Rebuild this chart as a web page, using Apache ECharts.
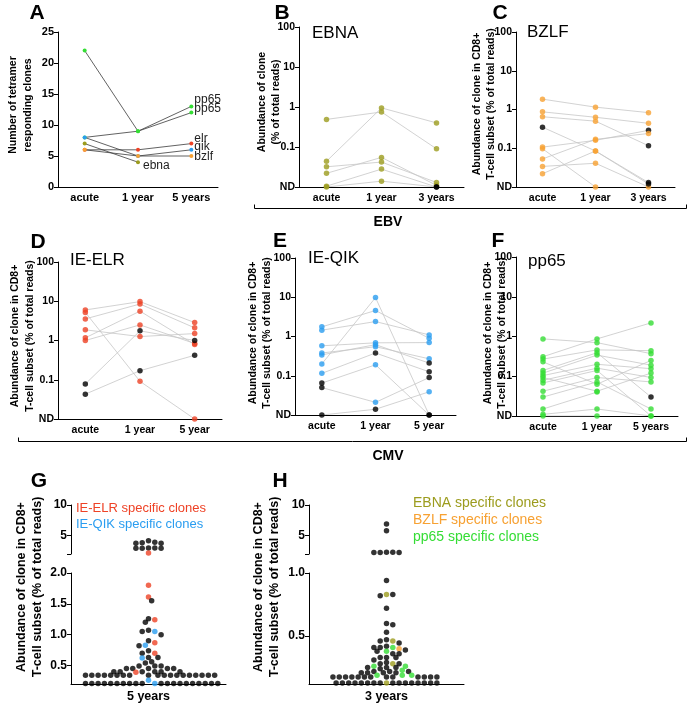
<!DOCTYPE html>
<html><head><meta charset="utf-8">
<script src="https://cdn.jsdelivr.net/npm/echarts@6/dist/echarts.min.js"></script>
<style>html,body{margin:0;padding:0;background:#fff}#c{width:691px;height:708px}</style>
</head><body><div id="c"></div>
<script>
const ND = 0.01;

// ---------- Panel A ----------
const aCats = ['acute', '1 year', '5 years'];
const aNames = ['pp65', 'pp65', 'elr', 'qik', 'bzlf', 'ebna'];
const aKeys = ['pp65', 'pp65', 'elr', 'qik', 'bzlf', 'ebna'];
const aValues = [[22, 9, 13], [8, 9, 12], [6, 6, 7], [8, 5, 6], [6, 5, 5], [7, 4]];
const aTicks = [0, 5, 10, 15, 20, 25];

// ---------- Panels B-F (abundance per clone: acute, 1 yr, 3/5 yr) ----------
const bCats = ['acute', '1 year', '3 years'];
const bClones = [
  [0.49, 0.75, 0.09],
  [0.044, 0.95, 0.40],
  [0.032, 0.042, 0.013],
  [0.022, 0.055, 0.011],
  [0.0105, 0.028, ND],
  [ND, 0.014, ND]
];
const bNeg = [[0,0,0],[0,0,0],[0,0,0],[0,0,0],[0,0,1],[0,0,1]];

const cCats = ['acute', '1 year', '3 years'];
const cClones = [
  [1.85, 1.15, 0.83],
  [0.87, 0.63, 0.44],
  [0.65, 0.5, 0.116],
  [0.35, 0.085, 0.013],
  [0.107, 0.16, 0.29],
  [0.097, ND, null],
  [0.053, 0.17, 0.24],
  [0.034, 0.041, ND],
  [0.022, 0.085, 0.012]
];
const cNeg = [[0,0,0],[0,0,0],[0,0,1],[1,0,1],[0,0,1],[0,0,0],[0,0,0],[0,0,0],[0,0,1]];

const dCats = ['acute', '1 year', '5 year'];
const dClones = [
  [6.0, 9.8, 2.86],
  [5.2, 0.091, ND],
  [3.55, 8.5, 2.1],
  [1.87, 1.26, 1.5],
  [1.17, 5.6, 0.79],
  [1.0, 2.5, 0.84],
  [0.078, 1.76, 1.0],
  [0.043, 0.17, 0.42]
];
const dNeg = [[0,0,0],[0,0,0],[0,0,0],[0,0,0],[0,0,0],[0,0,0],[1,1,1],[1,1,1]];

const eCats = ['acute', '1 year', '5 year'];
const eClones = [
  [1.76, 4.6, 0.9],
  [1.45, 2.4, 1.1],
  [0.58, 0.69, 0.7],
  [0.38, 0.55, 0.27],
  [0.34, 0.62, 0.21],
  [0.2, 9.8, ND],
  [0.115, 0.38, 0.126],
  [0.065, 0.19, ND],
  [0.05, 0.021, 0.09],
  [ND, 0.014, 0.039]
];
const eNeg = [[0,0,0],[0,0,0],[0,0,0],[0,0,0],[0,0,1],[0,0,1],[0,1,1],[1,0,1],[1,0,1],[1,1,0]];

const fCats = ['acute', '1 year', '5 years'];
const fClones = [
  [0.87, 0.7, 0.37],
  [0.31, 0.87, 2.2],
  [0.27, 0.46, 0.44],
  [0.23, 0.063, 0.25],
  [0.14, 0.39, 0.03],
  [0.12, 0.34, 0.19],
  [0.104, 0.2, 0.155],
  [0.093, 0.042, 0.12],
  [0.079, 0.16, 0.093],
  [0.068, 0.14, ND],
  [0.042, 0.093, 0.072],
  [0.03, 0.072, 0.015],
  [0.015, 0.04, null],
  [0.011, 0.015, ND],
  [ND, ND, null]
];
const fNeg = [[0,0,0],[0,0,0],[0,0,0],[0,0,0],[0,0,1],[0,0,0],[0,0,0],[0,0,0],[0,0,0],[0,0,0],[0,0,0],[0,0,0],[0,0,0],[0,0,0],[0,0,0]];

// ---------- Panel G (5 years, CMV) ----------
const gTopBlack = [4.15, 3.85, 3.75, 3.75, 3.9, 3.0, 2.95, 2.95, 2.95, 3.0];
const gTopRed = [2.15];
const gRed = [1.80, 1.61, 1.24, 0.87, 0.70, 0.39];
const gBlue = [1.05, 0.83, 0.62, 0.26, 0.21];
const gBlack = [1.55, 1.26, 1.2, 1.07, 1.05, 1.0, 0.90, 0.82, 0.74, 0.70, 0.63, 0.63, 0.56, 0.54,
  0.49, 0.49, 0.49, 0.45, 0.45, 0.45, 0.45, 0.45, 0.40, 0.40, 0.40, 0.40, 0.40, 0.40,
  0.34, 0.34, 0.34, 0.34, 0.34, 0.34, 0.34, 0.34, 0.34, 0.34, 0.34, 0.34, 0.34, 0.34, 0.34, 0.34, 0.34, 0.34, 0.34,
  0.21, 0.21, 0.21, 0.21, 0.21, 0.21, 0.21, 0.21, 0.21, 0.21, 0.21, 0.21, 0.21, 0.21, 0.21, 0.21, 0.21, 0.21, 0.21, 0.21];
const gCat = '5 years';

// ---------- Panel H (3 years, EBV + pp65) ----------
const hTopBlack = [6.9, 5.8, 2.3, 2.25, 2.25, 2.25, 2.3];
const hOlive = [0.83, 0.46, 0.28, 0.128];
const hOrange = [0.40];
const hGreen = [0.41, 0.38, 0.26, 0.26, 0.23, 0.19, 0.19, 0.19];
const hBlack = [0.94, 0.83, 0.82, 0.72, 0.60, 0.59, 0.53, 0.47, 0.46, 0.445, 0.42, 0.41, 0.41, 0.39, 0.38,
  0.36, 0.36, 0.33, 0.33, 0.33, 0.31, 0.29, 0.28, 0.28, 0.25, 0.25, 0.25, 0.24, 0.22, 0.22, 0.22, 0.21, 0.21, 0.21, 0.21,
  0.175, 0.175, 0.175, 0.175, 0.175, 0.175, 0.175, 0.175, 0.175, 0.175, 0.175, 0.175, 0.175,
  0.128, 0.128, 0.128, 0.128, 0.128, 0.128, 0.128, 0.128, 0.128, 0.128, 0.128, 0.128, 0.128, 0.128, 0.128, 0.128];
const hCat = '3 years';

// ---------- styles ----------
const COLORS = { ebna: '#9c9c1e', bzlf: '#f7a132', elr: '#ee4226', qik: '#2a9df0', pp65: '#35dd35', black: '#000000' };
const FONT = "'Liberation Sans', Arial, sans-serif";
const axLine = { show: true, onZero: false, lineStyle: { color: '#000', width: 1 } };
const axTick = { show: true, length: 4, lineStyle: { color: '#000', width: 1 } };
const lab = (size) => ({ color: '#000', fontWeight: 'bold', fontSize: size, fontFamily: FONT });

const grid = [], xAxis = [], yAxis = [], series = [], graphic = [];

// Panel A
grid.push({ left: 58, top: 32, width: 160, height: 155 });
xAxis.push({ type: 'category', gridIndex: 0, data: aCats, boundaryGap: true, axisLine: axLine, axisTick: { show: false }, axisLabel: { ...lab(11), margin: 5, interval: 0 } });
yAxis.push({ type: 'value', gridIndex: 0, min: aTicks[0], max: aTicks[aTicks.length - 1], interval: aTicks[1] - aTicks[0], axisLine: axLine, axisTick: axTick, axisLabel: { ...lab(11), margin: 4 }, splitLine: { show: false } });
const aOffsets = [[0, -7], [0, -4], [0, -5], [0, -3], [0, 1], [2, 3]];
aValues.forEach((vals, i) => {
  series.push({
    type: 'line', xAxisIndex: 0, yAxisIndex: 0, data: vals, symbol: 'circle', symbolSize: 4,
    lineStyle: { color: '#3a3a3a', width: 0.8 }, itemStyle: { color: COLORS[aKeys[i]] },
    endLabel: { show: true, formatter: aNames[i], distance: 3, offset: aOffsets[i], color: '#222', fontSize: 12, fontFamily: FONT },
    silent: true, z: 3
  });
});

// Panels B-F
const tickFmt = (v) => { const k = Math.round(Math.log10(v)); return k === -2 ? 'ND' : (k === -1 ? '0.1' : String(Math.pow(10, k))); };
const logPanels = [
  { key: 'ebna', cats: bCats, clones: bClones, neg: bNeg, g: { left: 299, top: 27, width: 165, height: 160 } },
  { key: 'bzlf', cats: cCats, clones: cClones, neg: cNeg, g: { left: 516, top: 32, width: 159, height: 155 } },
  { key: 'elr', cats: dCats, clones: dClones, neg: dNeg, g: { left: 58, top: 262, width: 164, height: 157 } },
  { key: 'qik', cats: eCats, clones: eClones, neg: eNeg, g: { left: 295, top: 258, width: 161, height: 157 } },
  { key: 'pp65', cats: fCats, clones: fClones, neg: fNeg, g: { left: 516, top: 257, width: 162, height: 159 } }
];
logPanels.forEach((p) => {
  const gi = grid.length;
  grid.push(p.g);
  xAxis.push({ type: 'category', gridIndex: gi, data: p.cats, boundaryGap: true, axisLine: axLine, axisTick: { show: false }, axisLabel: { ...lab(10.5), margin: 6, interval: 0 } });
  yAxis.push({ type: 'log', logBase: 10, gridIndex: gi, min: ND, max: 100, axisLine: axLine, axisTick: axTick, minorTick: { show: false }, axisLabel: { ...lab(10.5), margin: 4, formatter: tickFmt }, splitLine: { show: false } });
  p.clones.forEach((c) => {
    series.push({ type: 'line', xAxisIndex: gi, yAxisIndex: gi, data: c, symbol: 'none', lineStyle: { color: '#c6c6c6', width: 0.8 }, silent: true, z: 2 });
  });
  const pts = [];
  p.clones.forEach((c, ci) => c.forEach((v, t) => { if (v != null) pts.push([t, v, p.neg[ci][t] ? 'black' : p.key]); }));
  series.push({ type: 'scatter', xAxisIndex: gi, yAxisIndex: gi, data: pts, symbolSize: 5.5, clip: false, itemStyle: { color: (prm) => COLORS[prm.data[2]] }, z: 3, silent: true });
});

// Beeswarm layout for G/H (computed pixel offsets from the values)
function swarm(groups, pxPerUnit, diam, step) {
  const pts = [];
  groups.forEach(([vals, key]) => vals.forEach((v) => pts.push({ v, key, i: pts.length })));
  pts.sort((a, b) => b.v - a.v || a.i - b.i);
  const placed = [];
  pts.forEach((p) => {
    const y = p.v * pxPerUnit;
    let x = 0;
    for (let k = 0; k < 400; k++) {
      const cand = k === 0 ? 0 : (k % 2 ? 1 : -1) * Math.ceil(k / 2) * step;
      if (placed.every((q) => Math.hypot(q.x - cand, q.y - y) >= diam)) { x = cand; break; }
    }
    placed.push({ x, y, v: p.v, key: p.key });
  });
  return placed.map((q) => [q.x, q.v, q.key]);
}

function dotPanel(left, segTop, segBot, botMin, botMax, botLabels, cat, topGroups, botGroups) {
  const W = 155;
  // upper segment 2..10
  let gi = grid.length;
  grid.push({ left, top: segTop.top, width: W, height: segTop.h });
  xAxis.push({ type: 'value', gridIndex: gi, min: -W / 2, max: W / 2, show: false, splitLine: { show: false } });
  yAxis.push({ type: 'value', gridIndex: gi, min: 2, max: 10, axisLine: axLine, axisTick: { ...axTick, customValues: [2, 5, 10] }, axisLabel: { ...lab(12), margin: 4, customValues: [5, 10] }, splitLine: { show: false } });
  series.push({ type: 'scatter', xAxisIndex: gi, yAxisIndex: gi, data: swarm(topGroups, segTop.h / 8, 4.5, 3.15), symbolSize: 5.5, clip: false, itemStyle: { color: (prm) => COLORS[prm.data[2]] }, silent: true });
  // lower segment
  gi = grid.length;
  grid.push({ left, top: segBot.top, width: W, height: segBot.h });
  xAxis.push({ type: 'value', gridIndex: gi, min: -W / 2, max: W / 2, axisLine: axLine, axisTick: { show: false }, splitLine: { show: false }, axisLabel: { ...lab(12.5), margin: 6, customValues: [0], formatter: () => cat } });
  yAxis.push({ type: 'value', gridIndex: gi, min: botMin, max: botMax, axisLine: axLine, axisTick: { ...axTick, customValues: botLabels }, axisLabel: { ...lab(12), margin: 4, customValues: botLabels, formatter: (v) => v.toFixed(1) }, splitLine: { show: false } });
  series.push({ type: 'scatter', xAxisIndex: gi, yAxisIndex: gi, data: swarm(botGroups, segBot.h / (botMax - botMin), 4.5, 3.15), symbolSize: 5.5, clip: false, itemStyle: { color: (prm) => COLORS[prm.data[2]] }, silent: true });
}
dotPanel(71, { top: 505, h: 49 }, { top: 573, h: 111 }, 0.2, 2.0, [0.5, 1.0, 1.5, 2.0], gCat,
  [[gTopRed, 'elr'], [gTopBlack, 'black']],
  [[gRed, 'elr'], [gBlue, 'qik'], [gBlack, 'black']]);
dotPanel(309, { top: 505, h: 49 }, { top: 573, h: 111 }, 0.12, 1.0, [0.5, 1.0], hCat,
  [[hTopBlack, 'black']],
  [[hOlive, 'ebna'], [hOrange, 'bzlf'], [hGreen, 'pp65'], [hBlack, 'black']]);

grid.forEach((g) => { g.containLabel = false; g.outerBoundsMode = 'none'; });

// ---------- texts ----------
const txt = (text, x, y, o = {}) => ({
  type: 'text', x, y, rotation: o.rot || 0, silent: true,
  style: { text, fill: o.color || '#000', fontSize: o.size || 12, fontWeight: o.weight || 'normal', fontFamily: FONT,
    align: o.align || 'center', verticalAlign: 'middle', lineHeight: o.lh || undefined }
});
[['A', 37, 13], ['B', 282, 13], ['C', 500, 13], ['D', 38, 242], ['E', 280, 241], ['F', 498, 241], ['G', 39, 481], ['H', 280, 481]]
  .forEach(([t, x, y]) => graphic.push(txt(t, x, y, { size: 21, weight: 'bold' })));
[['EBNA', 312, 33], ['BZLF', 527, 32], ['IE-ELR', 70, 260], ['IE-QIK', 308, 258], ['pp65', 528, 261]]
  .forEach(([t, x, y]) => graphic.push(txt(t, x, y, { size: 17, align: 'left' })));
const R = Math.PI / 2;
const t2 = 'Abundance of clone in CD8+\nT-cell subset (% of total reads)';
graphic.push(txt('Number of tetramer\nresponding clones', 20.5, 105, { rot: R, size: 10.5, weight: 'bold', lh: 15 }));
graphic.push(txt('Abundance of clone\n(% of total reads)', 269, 102, { rot: R, size: 10.5, weight: 'bold', lh: 14 }));
graphic.push(txt(t2, 484.5, 104, { rot: R, size: 10.5, weight: 'bold', lh: 14 }));
graphic.push(txt(t2, 22.5, 336, { rot: R, size: 10.5, weight: 'bold', lh: 15 }));
graphic.push(txt(t2, 260, 333, { rot: R, size: 10.5, weight: 'bold', lh: 14 }));
graphic.push(txt(t2, 495, 333, { rot: R, size: 10.5, weight: 'bold', lh: 14 }));
graphic.push(txt(t2, 30, 587, { rot: R, size: 12.5, weight: 'bold', lh: 16 }));
graphic.push(txt(t2, 266.5, 587, { rot: R, size: 12.5, weight: 'bold', lh: 16 }));
// legends G / H
graphic.push(txt('IE-ELR specific clones', 76, 508, { align: 'left', size: 13, color: COLORS.elr }));
graphic.push(txt('IE-QIK specific clones', 76, 524, { align: 'left', size: 13, color: COLORS.qik }));
graphic.push(txt('EBNA specific clones', 413, 503, { align: 'left', size: 14, color: COLORS.ebna }));
graphic.push(txt('BZLF specific clones', 413, 520, { align: 'left', size: 14, color: COLORS.bzlf }));
graphic.push(txt('pp65 specific clones', 413, 537, { align: 'left', size: 14, color: COLORS.pp65 }));
// brackets
const bracket = (x1, x2, y) => ({ type: 'polyline', silent: true, shape: { points: [[x1, y - 4], [x1, y], [x2, y], [x2, y - 4]] }, style: { stroke: '#000', lineWidth: 1, fill: null } });
graphic.push(bracket(254.5, 686.5, 208.5));
graphic.push(txt('EBV', 388, 222, { size: 14, weight: 'bold' }));
graphic.push(bracket(18.5, 686.5, 441.5));
graphic.push(txt('CMV', 388, 456, { size: 14, weight: 'bold' }));

const chart = echarts.init(document.getElementById('c'), null, { renderer: 'canvas' });
chart.setOption({ animation: false, backgroundColor: '#fff', grid, xAxis, yAxis, series, graphic });
</script></body></html>
